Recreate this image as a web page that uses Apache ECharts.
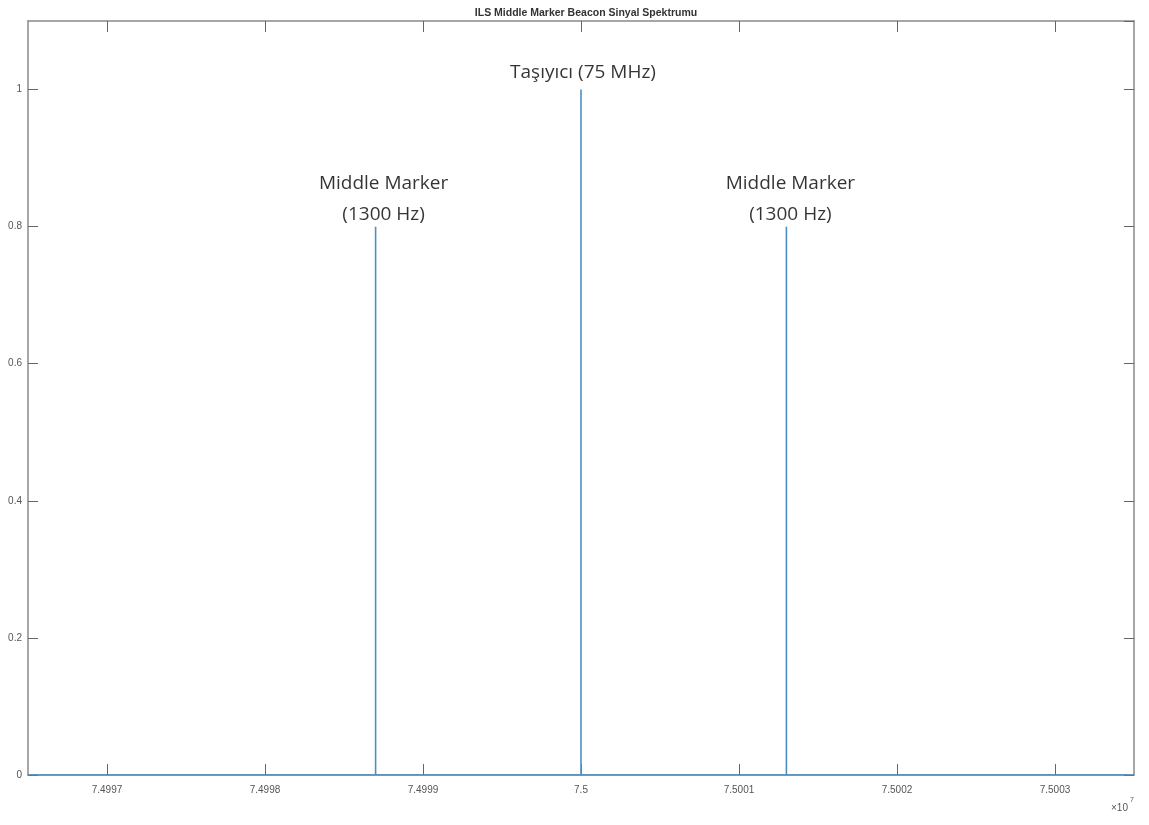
<!DOCTYPE html>
<html>
<head>
<meta charset="utf-8">
<script src="https://cdn.jsdelivr.net/npm/echarts@6/dist/echarts.min.js"></script>
<style>
html,body{margin:0;padding:0;background:#fff;}
#c{width:1149px;height:825px;}
</style>
</head>
<body>
<div id="c"></div>
<script>
// Spectrum trace (Hz, amplitude)
const freqs = [74996500, 74998700, 74998700, 74998700, 75000000, 75000000, 75000000, 75001300, 75001300, 75001300, 75003500];
const amps  = [0, 0, 0.8, 0, 0, 1, 0, 0, 0.8, 0, 0];
// Annotations
const annFreqs = [74998700, 75000000, 75001300];
const annAmps  = [0.8, 1, 0.8];
const annTexts = ['Middle Marker\n(1300 Hz)', 'Taşıyıcı (75 MHz)', 'Middle Marker\n(1300 Hz)'];
// Axis ticks
const xTicks = [74997000, 74998000, 74999000, 75000000, 75001000, 75002000, 75003000];
const xTickLabels = ['7.4997', '7.4998', '7.4999', '7.5', '7.5001', '7.5002', '7.5003'];
const yTicks = [0, 0.2, 0.4, 0.6, 0.8, 1];
const yTickLabels = ['0', '0.2', '0.4', '0.6', '0.8', '1'];
const titleText = 'ILS Middle Marker Beacon Sinyal Spektrumu';

const chart = echarts.init(document.getElementById('c'), null, {renderer: 'canvas'});
const axisGray = '#8a8a8a';
const labelGray = '#555';

const xLabelMap = {};
xTicks.forEach((t, i) => xLabelMap[t] = xTickLabels[i]);
const yLabelMap = {};
yTicks.forEach((t, i) => yLabelMap[t.toFixed(1)] = yTickLabels[i]);

const labelOffsets = [[8, 3], [2, -1], [4, 3]];

const commonX = {
  type: 'value', min: 74996500, max: 75003500,
  splitLine: {show: false}
};
const commonY = {
  type: 'value', min: 0, max: 1.1, interval: 0.2,
  splitLine: {show: false}
};

chart.setOption({
  animation: false,
  title: {
    text: titleText, left: 581, top: 3, textAlign: 'center',
    textStyle: {fontFamily: 'Liberation Sans', fontWeight: 'bold', fontSize: 10.5, color: '#333'}
  },
  grid: {left: 28, right: 15, top: 21, bottom: 50, containLabel: false},
  xAxis: [
    Object.assign({}, commonX, {
      position: 'bottom',
      axisLine: {show: true, onZero: false, lineStyle: {color: axisGray, width: 1.5}},
      axisTick: {show: true, inside: true, length: 11, customValues: xTicks, lineStyle: {color: '#666'}},
      axisLabel: {
        show: true, margin: 10, color: labelGray, fontFamily: 'Liberation Sans', fontSize: 10,
        customValues: xTicks,
        formatter: v => (xLabelMap[v] !== undefined ? xLabelMap[v] : '')
      }
    }),
    Object.assign({}, commonX, {
      position: 'top',
      axisLine: {show: true, onZero: false, lineStyle: {color: axisGray, width: 1.5}},
      axisTick: {show: true, inside: true, length: 11, customValues: xTicks, lineStyle: {color: '#666'}},
      axisLabel: {show: false}
    })
  ],
  yAxis: [
    Object.assign({}, commonY, {
      position: 'left',
      axisLine: {show: true, onZero: false, lineStyle: {color: axisGray, width: 1.5}},
      axisTick: {show: true, inside: true, length: 10, lineStyle: {color: '#666'}},
      axisLabel: {
        show: true, margin: 6, color: labelGray, fontFamily: 'Liberation Sans', fontSize: 10,
        formatter: v => (yLabelMap[v.toFixed(1)] !== undefined && v <= 1.0001 ? yLabelMap[v.toFixed(1)] : ''),
        showMaxLabel: false
      }
    }),
    Object.assign({}, commonY, {
      position: 'right',
      axisLine: {show: true, onZero: false, lineStyle: {color: axisGray, width: 1.5}},
      axisTick: {show: true, inside: true, length: 10, lineStyle: {color: '#666'}},
      axisLabel: {show: false}
    })
  ],
  graphic: [{
    type: 'text', left: 1111, top: 803,
    style: {text: '×10', fontFamily: 'Liberation Sans', fontSize: 10, fill: labelGray}
  }, {
    type: 'text', left: 1130, top: 797,
    style: {text: '7', fontFamily: 'Liberation Sans', fontSize: 7, fill: labelGray}
  }],
  series: [{
    type: 'line',
    xAxisIndex: 0, yAxisIndex: 0,
    data: freqs.map((f, i) => [f, amps[i]]),
    showSymbol: false, symbol: 'none',
    lineStyle: {color: '#4a90c4', width: 1.6},
    z: 3
  }, {
    type: 'scatter',
    xAxisIndex: 0, yAxisIndex: 0,
    data: annFreqs.map((f, i) => ({
      value: [f, annAmps[i]],
      label: {formatter: annTexts[i], distance: 0, offset: labelOffsets[i]}
    })),
    symbolSize: 0,
    silent: true,
    label: {
      show: true, position: 'top',
      fontFamily: 'Open Sans', fontSize: 19, color: '#000', lineHeight: 31, align: 'center'
    },
    z: 4
  }]
});
</script>
</body>
</html>
